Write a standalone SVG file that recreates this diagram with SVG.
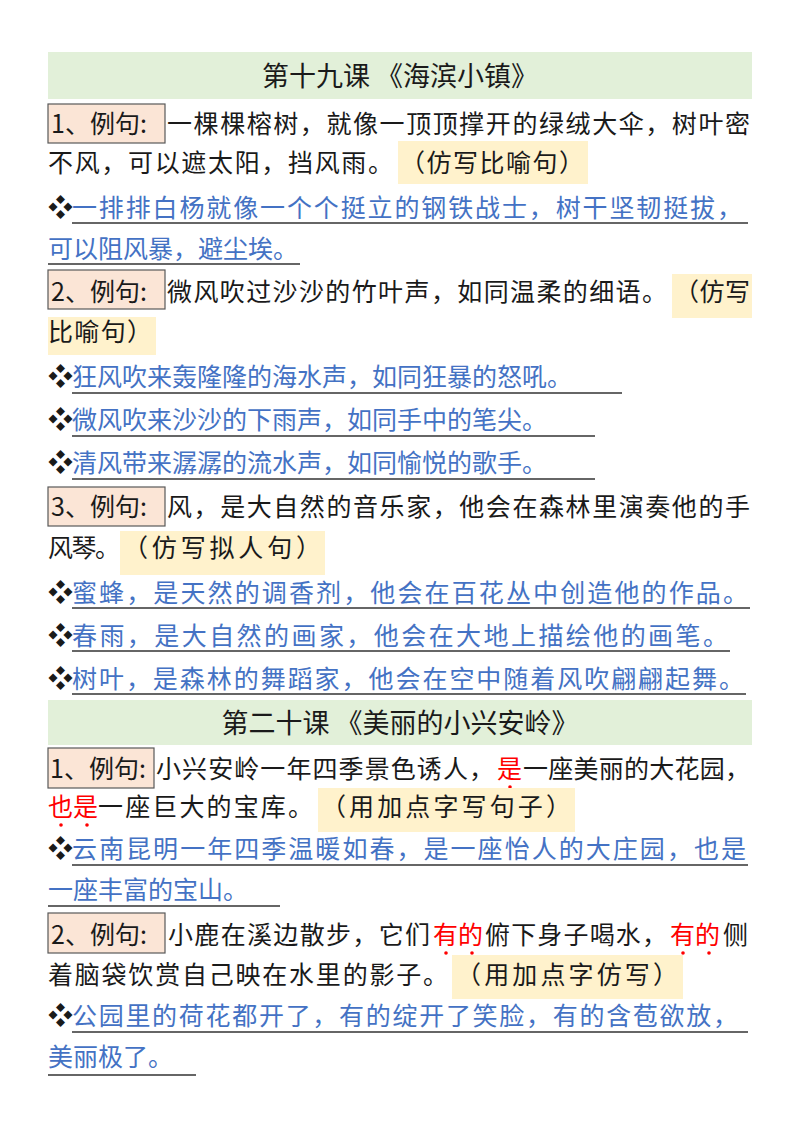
<svg xmlns="http://www.w3.org/2000/svg" width="800" height="1132" viewBox="0 0 800 1132">
<style>
text{font-family:"Noto Sans CJK SC","Noto Sans",sans-serif;font-size:25px;fill:#1a1a1a}
.b{fill:#4472c4}.r{fill:#ff0000}.t{font-size:27px}
.band{fill:#e2f0d9}.lab{fill:#fbe5d6;stroke:#595959;stroke-width:1.2}.hl{fill:#fff2cc}
.u{stroke:#333;stroke-width:1.6}
.d{fill:#ff0000}
</style>
<rect width="800" height="1132" fill="#fff"/>
<g id="title1"><rect class="band" x="48" y="52" width="704" height="47"/><text class="t" x="400" y="86" text-anchor="middle">第十九课 《海滨小镇》</text></g>
<g id="s1">
<rect class="lab" x="48" y="104" width="117" height="39"/>
<text x="51" y="133">1、例句:</text>
<text x="167" y="133" textLength="583" lengthAdjust="spacing">一棵棵榕树，就像一顶顶撑开的绿绒大伞，树叶密</text>
<rect class="hl" x="398" y="141" width="190" height="43"/>
<text x="48" y="172" textLength="345" lengthAdjust="spacing">不风，可以遮太阳，挡风雨。</text>
<text x="400" y="172" textLength="184" lengthAdjust="spacing">（仿写比喻句）</text>
<text x="48" y="217">❖</text><text class="b" x="72" y="217" textLength="670" lengthAdjust="spacing">一排排白杨就像一个个挺立的钢铁战士，树干坚韧挺拔，</text>
<line class="u" x1="72" y1="223" x2="748" y2="223"/>
<text class="b" x="48" y="258">可以阻风暴，避尘埃。</text>
<line class="u" x1="48" y1="264" x2="300" y2="264"/>
</g>
<g id="s2">
<rect class="lab" x="48" y="270" width="117" height="39"/>
<text x="51" y="301">2、例句:</text>
<rect class="hl" x="672" y="274" width="80" height="44"/>
<text x="167" y="301" textLength="500" lengthAdjust="spacing">微风吹过沙沙的竹叶声，如同温柔的细语。</text>
<text x="674" y="301" textLength="76" lengthAdjust="spacing">（仿写</text>
<rect class="hl" x="48" y="317" width="108" height="38"/>
<text x="48" y="341" textLength="104" lengthAdjust="spacing">比喻句）</text>
<text x="48" y="386">❖</text><text class="b" x="72" y="386">狂风吹来轰隆隆的海水声，如同狂暴的怒吼。</text>
<line class="u" x1="72" y1="393" x2="622" y2="393"/>
<text x="48" y="429">❖</text><text class="b" x="72" y="429">微风吹来沙沙的下雨声，如同手中的笔尖。</text>
<line class="u" x1="72" y1="436" x2="595" y2="436"/>
<text x="48" y="472">❖</text><text class="b" x="72" y="472">清风带来潺潺的流水声，如同愉悦的歌手。</text>
<line class="u" x1="72" y1="479" x2="595" y2="479"/>
</g>
<g id="s3">
<rect class="lab" x="48" y="487" width="117" height="39"/>
<text x="51" y="516">3、例句:</text>
<text x="167" y="516" textLength="583" lengthAdjust="spacing">风，是大自然的音乐家，他会在森林里演奏他的手</text>
<rect class="hl" x="120" y="531" width="205" height="44"/>
<text x="48" y="557" textLength="72" lengthAdjust="spacing">风琴。</text>
<text x="123" y="557" textLength="198" lengthAdjust="spacing">（仿写拟人句）</text>
<text x="48" y="602">❖</text><text class="b" x="72" y="602" textLength="676" lengthAdjust="spacing">蜜蜂，是天然的调香剂，他会在百花丛中创造他的作品。</text>
<line class="u" x1="72" y1="608" x2="750" y2="608"/>
<text x="48" y="645">❖</text><text class="b" x="72" y="645" textLength="656" lengthAdjust="spacing">春雨，是大自然的画家，他会在大地上描绘他的画笔。</text>
<line class="u" x1="72" y1="651" x2="730" y2="651"/>
<text x="48" y="688">❖</text><text class="b" x="72" y="688" textLength="672" lengthAdjust="spacing">树叶，是森林的舞蹈家，他会在空中随着风吹翩翩起舞。</text>
<line class="u" x1="72" y1="694" x2="746" y2="694"/>
</g>
<g id="title2"><rect class="band" x="48" y="700" width="704" height="45"/><text class="t" x="400" y="733" text-anchor="middle">第二十课 《美丽的小兴安岭》</text></g>
<g id="s4">
<rect class="lab" x="48" y="748" width="106" height="40"/>
<text x="50" y="778">1、例句:</text>
<text x="156" y="778" textLength="338" lengthAdjust="spacing">小兴安岭一年四季景色诱人，</text>
<text class="r" x="497" y="778">是</text>
<text x="523" y="778" textLength="227" lengthAdjust="spacing">一座美丽的大花园，</text>
<circle class="d" cx="510" cy="787" r="1.8"/>
<rect class="hl" x="318" y="788" width="257" height="44"/>
<text class="r" x="48" y="816">也是</text>
<text x="98" y="816" textLength="215" lengthAdjust="spacing">一座巨大的宝库。</text>
<text x="321" y="816" textLength="250" lengthAdjust="spacing">（用加点字写句子）</text>
<circle class="d" cx="61" cy="825" r="1.8"/><circle class="d" cx="87" cy="825" r="1.8"/>
<text x="48" y="858">❖</text><text class="b" x="72" y="858" textLength="674" lengthAdjust="spacing">云南昆明一年四季温暖如春，是一座怡人的大庄园，也是</text>
<line class="u" x1="72" y1="865" x2="748" y2="865"/>
<text class="b" x="48" y="899">一座丰富的宝山。</text>
<line class="u" x1="48" y1="906" x2="280" y2="906"/>
</g>
<g id="s5">
<rect class="lab" x="48" y="913" width="117" height="40"/>
<text x="51" y="944">2、例句:</text>
<text x="168" y="944" textLength="262" lengthAdjust="spacing">小鹿在溪边散步，它们</text>
<text class="r" x="433" y="944">有的</text>
<text x="485" y="944" textLength="182" lengthAdjust="spacing">俯下身子喝水，</text>
<text class="r" x="670" y="944">有的</text>
<text x="723" y="944">侧</text>
<circle class="d" cx="446" cy="953" r="1.8"/><circle class="d" cx="472" cy="953" r="1.8"/>
<circle class="d" cx="683" cy="953" r="1.8"/><circle class="d" cx="709" cy="953" r="1.8"/>
<rect class="hl" x="452" y="955" width="231" height="44"/>
<text x="48" y="984" textLength="400" lengthAdjust="spacing">着脑袋饮赏自己映在水里的影子。</text>
<text x="456" y="984" textLength="222" lengthAdjust="spacing">（用加点字仿写）</text>
<text x="48" y="1025">❖</text><text class="b" x="72" y="1025" textLength="666" lengthAdjust="spacing">公园里的荷花都开了，有的绽开了笑脸，有的含苞欲放，</text>
<line class="u" x1="72" y1="1032" x2="748" y2="1032"/>
<text class="b" x="48" y="1066">美丽极了。</text>
<line class="u" x1="48" y1="1075" x2="196" y2="1075"/>
</g>
</svg>
